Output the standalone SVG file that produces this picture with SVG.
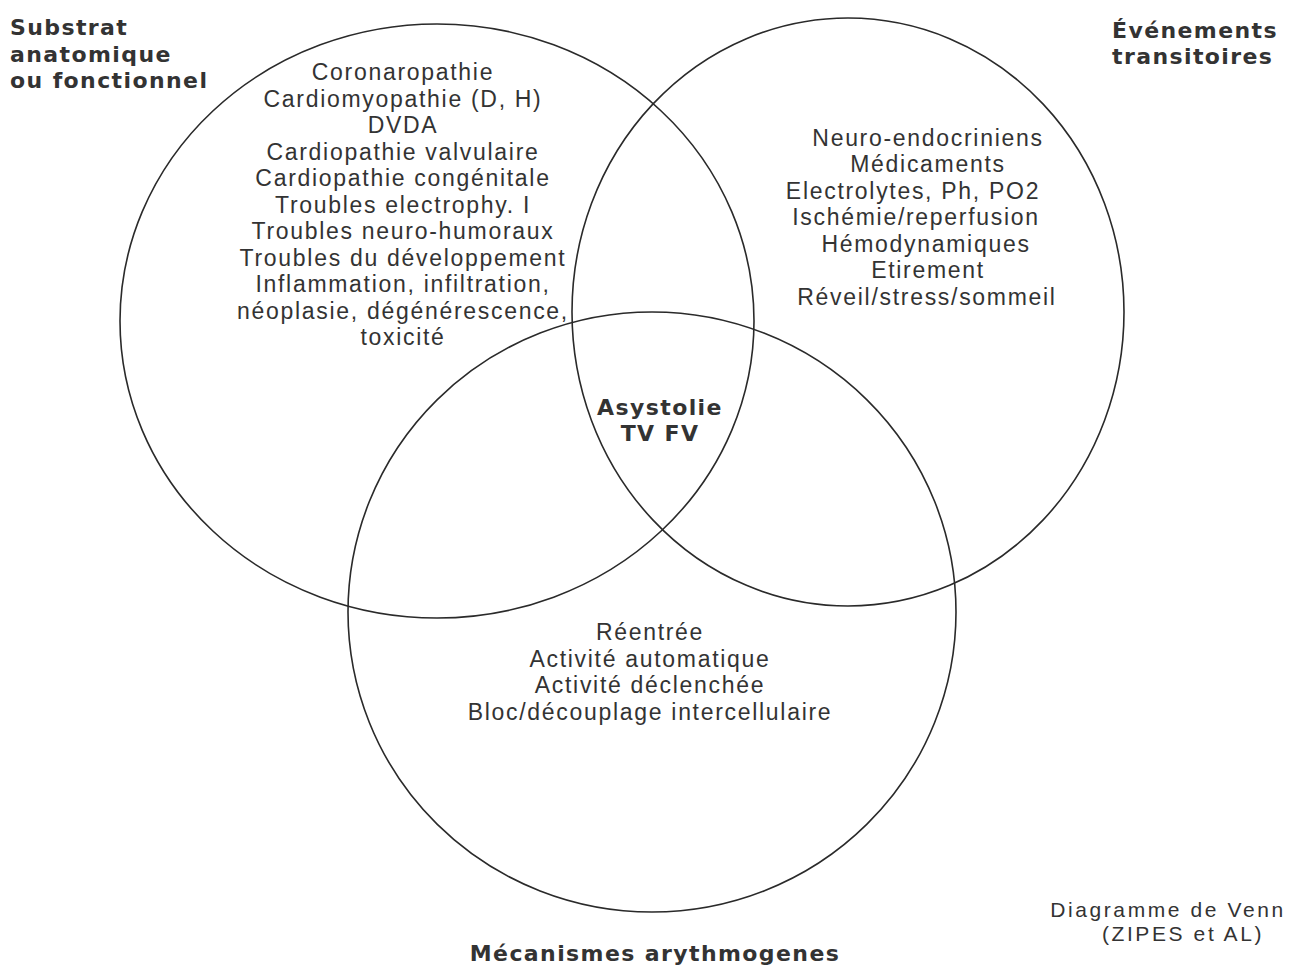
<svg xmlns="http://www.w3.org/2000/svg" width="1297" height="968" viewBox="0 0 1297 968">
<style>
.c{fill:none;stroke:#2a2a2a;stroke-width:1.6}
.t{font-family:"Liberation Sans",Arial,sans-serif;font-size:23px;letter-spacing:1.7px;fill:#333;text-anchor:middle}
.b{font-family:"DejaVu Sans","Liberation Sans",sans-serif;font-weight:bold;font-size:22px;letter-spacing:1.4px;fill:#333}
</style>
<rect width="1297" height="968" fill="#fff"/>
<g id="connectors"></g>
<g id="circle-substrat">
<ellipse class="c" cx="437" cy="321" rx="317" ry="297"/>
<text class="t"><tspan x="403" y="80">Coronaropathie</tspan><tspan x="403" y="106.5">Cardiomyopathie (D, H)</tspan><tspan x="403" y="133">DVDA</tspan><tspan x="403" y="159.5">Cardiopathie valvulaire</tspan><tspan x="403" y="186">Cardiopathie congénitale</tspan><tspan x="403" y="212.5">Troubles electrophy. I</tspan><tspan x="403" y="239">Troubles neuro-humoraux</tspan><tspan x="403" y="265.5">Troubles du développement</tspan><tspan x="403" y="292">Inflammation, infiltration,</tspan><tspan x="403" y="318.5">néoplasie, dégénérescence,</tspan><tspan x="403" y="345">toxicité</tspan></text>
</g>
<g id="circle-evenements">
<ellipse class="c" cx="848" cy="312" rx="276" ry="294"/>
<text class="t"><tspan x="928" y="146">Neuro-endocriniens</tspan><tspan x="928" y="172">Médicaments</tspan><tspan x="913" y="198.5">Electrolytes, Ph, PO2</tspan><tspan x="916" y="225">Ischémie/reperfusion</tspan><tspan x="926" y="251.5">Hémodynamiques</tspan><tspan x="928" y="278">Etirement</tspan><tspan x="927" y="305">Réveil/stress/sommeil</tspan></text>
</g>
<g id="circle-mecanismes">
<ellipse class="c" cx="652" cy="612" rx="304" ry="300"/>
<text class="t"><tspan x="650" y="640">Réentrée</tspan><tspan x="650" y="667">Activité automatique</tspan><tspan x="650" y="693">Activité déclenchée</tspan><tspan x="650" y="720">Bloc/découplage intercellulaire</tspan></text>
</g>
<g id="center">
<text class="b" text-anchor="middle"><tspan x="660" y="415">Asystolie</tspan><tspan x="660" y="441">TV FV</tspan></text>
</g>
<g id="label-substrat">
<text class="b"><tspan x="10" y="35">Substrat</tspan><tspan x="10" y="62">anatomique</tspan><tspan x="10" y="88">ou fonctionnel</tspan></text>
</g>
<g id="label-evenements">
<text class="b"><tspan x="1112" y="38">Événements</tspan><tspan x="1112" y="64">transitoires</tspan></text>
</g>
<g id="label-mecanismes">
<text class="b" text-anchor="middle" x="655" y="961">Mécanismes arythmogenes</text>
</g>
<g id="caption">
<text class="t" style="font-size:21px;letter-spacing:2.6px"><tspan x="1168" y="917">Diagramme de Venn</tspan><tspan x="1183" y="941">(ZIPES et AL)</tspan></text>
</g>
</svg>
